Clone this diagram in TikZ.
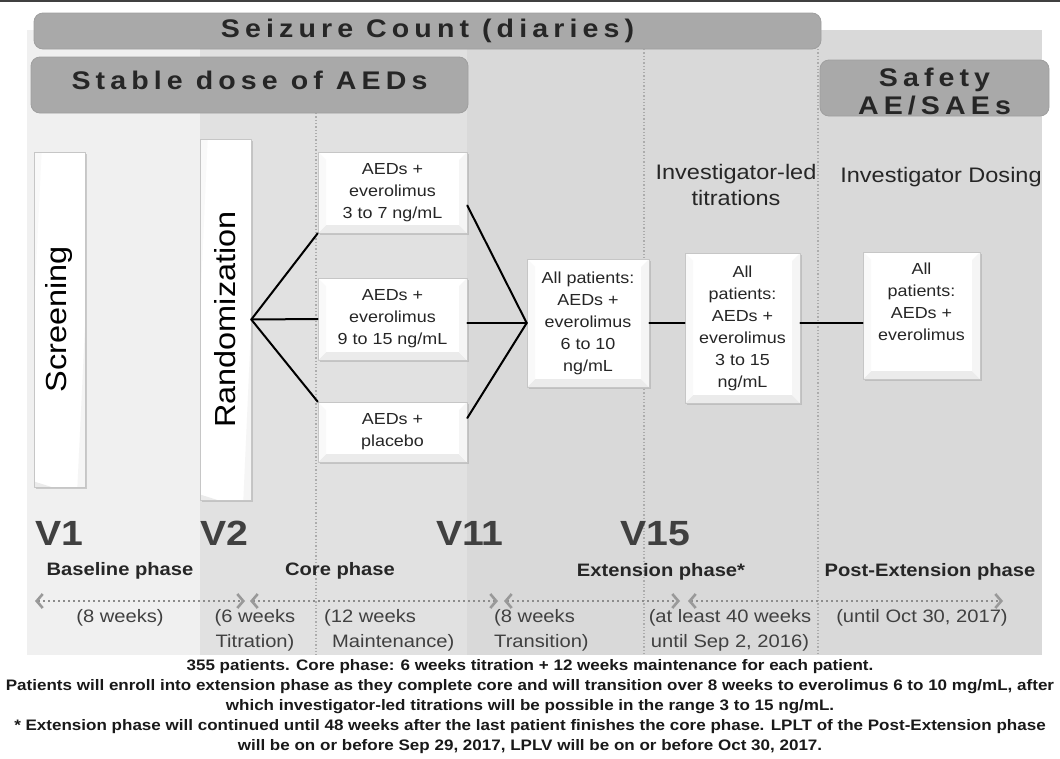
\documentclass[tikz,border=0pt]{standalone}
\usepackage{fontspec}
\setmainfont{Liberation Sans}[FakeStretch=1.12]
\newfontfamily\spacedfont{Liberation Sans}[FakeStretch=1.12,LetterSpace=20]
\usetikzlibrary{arrows.meta,shadows}

\definecolor{barfill}{HTML}{A9A9A9}
\definecolor{bandbase}{HTML}{F0F0F0}
\definecolor{bandcore}{HTML}{E1E1E1}
\definecolor{bandext}{HTML}{D9D9D9}
\definecolor{textdark}{HTML}{262626}
\definecolor{visitgray}{HTML}{404040}
\definecolor{dotgray}{HTML}{8C8C8C}
\definecolor{tipgray}{HTML}{999999}

\tikzset{
	tlbarb/.tip={Straight Barb[length=6pt,width=14pt,line width=2.6pt,color=tipgray]},
	headbar/.style={draw=gray!75,fill=barfill,rounded corners=9pt,line width=0.8pt,
		font=\spacedfont\bfseries\fontsize{25.5}{28}\selectfont,text=textdark,align=center,inner sep=0pt},
	bevel/.style={path picture={
		\fill[gray!16] (path picture bounding box.south west) -- (path picture bounding box.south east)
			-- ([xshift=-8pt,yshift=8pt]path picture bounding box.south east) -- ([xshift=8pt,yshift=8pt]path picture bounding box.south west) -- cycle;
		\fill[gray!8] (path picture bounding box.south east) -- (path picture bounding box.north east)
			-- ([xshift=-8pt,yshift=-8pt]path picture bounding box.north east) -- ([xshift=-8pt,yshift=8pt]path picture bounding box.south east) -- cycle;
		\fill[gray!5] (path picture bounding box.south west) -- (path picture bounding box.north west)
			-- ([xshift=8pt,yshift=-8pt]path picture bounding box.north west) -- ([xshift=8pt,yshift=8pt]path picture bounding box.south west) -- cycle;}},
	dosebox/.style={draw=gray!45,fill=white,line width=0.6pt,align=center,text=textdark,bevel,
		font=\fontsize{16}{22}\selectfont,inner sep=0pt,
		drop shadow={shadow xshift=1.5pt,shadow yshift=-1.5pt,fill=gray!70,opacity=0.5}},
	visitbox/.style={dosebox,rotate=90,font=\fontsize{29}{32}\selectfont,text=black},
	arm/.style={line width=2pt,black},
	phaseline/.style={draw=gray!65,line width=1.3pt,line cap=butt,dash pattern=on 1.3pt off 2pt},
	timeline/.style={draw=dotgray,line width=1.8pt,line cap=butt,dash pattern=on 1.8pt off 3.2pt,tlbarb-tlbarb},
	visit/.style={font=\bfseries\fontsize{35}{38}\selectfont,text=visitgray,anchor=base west,inner sep=0pt},
	phase/.style={font=\bfseries\fontsize{18}{22}\selectfont,text=textdark,inner sep=0pt},
	weeks/.style={font=\fontsize{18}{25}\selectfont,text=visitgray,inner sep=0pt},
	bigtext/.style={font=\fontsize{21}{26}\selectfont,text=textdark,align=center,inner sep=0pt},
	notes/.style={font=\bfseries\fontsize{15.2}{20}\selectfont,text=black!90,align=center,inner sep=0pt}
}

\begin{document}
\begin{tikzpicture}[x=1pt,y=-1pt,line cap=round,line join=round]
	\useasboundingbox (0,0) rectangle (1060,758);
	\draw[line width=2pt,gray!50!black] (0,1) -- (1060,1);
	% phase bands
	\fill[bandbase] (27,30) rectangle (200,655);
	\fill[bandcore] (200,30) rectangle (467,655);
	\fill[bandext] (467,30) rectangle (1042,655);
	\draw[phaseline] (316,113) -- (316,655);
	\draw[phaseline] (644,49) -- (644,655);
	\draw[phaseline] (818,49) -- (818,655);
	% header bars
	\node[headbar,minimum width=787,minimum height=36] (seizure) at (427.5,31) {Seizure Count (diaries)};
	\node[headbar,minimum width=437,minimum height=56,text depth=10pt] (stable) at (249.5,85) {Stable dose of AEDs};
	\node[headbar,minimum width=229,minimum height=56,text height=54pt] (safety) at (934.5,88) {Safety\\AE/SAEs};
	% visits
	\node[visitbox,minimum width=335,minimum height=51] (screen) at (59.5,319.5) {Screening};
	\node[visitbox,minimum width=361,minimum height=51] (rand) at (225.5,319.5) {Randomization};
	% treatment boxes
	\node[dosebox,minimum width=149,minimum height=81] (arm1) at (392.5,192.5) {AEDs +\\everolimus\\3 to 7 ng/mL};
	\node[dosebox,minimum width=149,minimum height=82] (arm2) at (392.5,319) {AEDs +\\everolimus\\9 to 15 ng/mL};
	\node[dosebox,minimum width=149,minimum height=60] (arm3) at (392.5,432) {AEDs +\\placebo};
	\node[dosebox,minimum width=122,minimum height=128] (core) at (588,323) {All patients:\\AEDs +\\everolimus\\6 to 10\\ng/mL};
	\node[dosebox,minimum width=115,minimum height=150] (titr) at (742.5,328) {All\\patients:\\AEDs +\\everolimus\\3 to 15\\ng/mL};
	\node[dosebox,minimum width=117,minimum height=127] (post) at (921.5,315.5) {All\\patients:\\AEDs +\\everolimus\\\strut};
	\draw[arm] (rand.south) -- (arm1.south west);
	\draw[arm] (rand.south) -- (arm2.west);
	\draw[arm] (rand.south) -- (arm3.north west);
	\draw[arm] ([yshift=-13pt]arm1.east) -- (core.west);
	\draw[arm] (arm2.east |- core.west) -- (core.west);
	\draw[arm] ([yshift=14pt]arm3.east) -- (core.west);
	\draw[arm] (core.east) -- (core.east -| titr.west);
	\draw[arm] (core.east -| titr.east) -- (core.east -| post.west);
	\node[bigtext] (invled) at (736,185) {Investigator-led\\titrations};
	\node[bigtext] (invdose) at (941,177) {Investigator Dosing};
	% visit numbers and phases
	\node[visit] (v1) at (35,545) {V1};
	\node[visit] (v2) at (200,545) {V2};
	\node[visit] (v11) at (436,545) {V11};
	\node[visit] (v15) at (620,545) {V15};
	\node[phase] (basephase) at (120,571) {Baseline phase};
	\node[phase] (corephase) at (340,571) {Core phase};
	\node[phase] (extphase) at (661,572) {Extension phase*};
	\node[phase] (postphase) at (930,572) {Post-Extension phase};
	\coordinate (t0) at (35,601);
	\coordinate (t1) at (245,601);
	\coordinate (t2) at (250,601);
	\coordinate (t3) at (498,601);
	\coordinate (t4) at (504,601);
	\coordinate (t5) at (680,601);
	\coordinate (t6) at (688,601);
	\coordinate (t7) at (1003,601);
	\draw[timeline] (t0) -- (t1);
	\draw[timeline] (t2) -- (t3);
	\draw[timeline] (t4) -- (t5);
	\draw[timeline] (t6) -- (t7);
	\node[weeks] (w8) at (120,618) {(8 weeks)};
	\node[weeks,align=center] (w6) at (255,630.5) {(6 weeks\\Titration)};
	\node[weeks,align=left,anchor=west] (w12) at (324,630.5) {(12 weeks\\\hspace*{8pt}Maintenance)};
	\node[weeks,align=left,anchor=west] (w8t) at (494,630.5) {(8 weeks\\Transition)};
	\node[weeks,align=center] (w40) at (730,630.5) {(at least 40 weeks\\until Sep 2, 2016)};
	\node[weeks] (wpost) at (922,618) {(until Oct 30, 2017)};
	% footnote
	\node[notes] (note) at (530,707) {355 patients. Core phase: 6 weeks titration + 12 weeks maintenance for each patient.\\
		Patients will enroll into extension phase as they complete core and will transition over 8 weeks to everolimus 6 to 10 mg/mL, after\\
		which investigator-led titrations will be possible in the range 3 to 15 ng/mL.\\
		* Extension phase will continued until 48 weeks after the last patient finishes the core phase. LPLT of the Post-Extension phase\\
		will be on or before Sep 29, 2017, LPLV will be on or before Oct 30, 2017.};
\end{tikzpicture}
\end{document}
